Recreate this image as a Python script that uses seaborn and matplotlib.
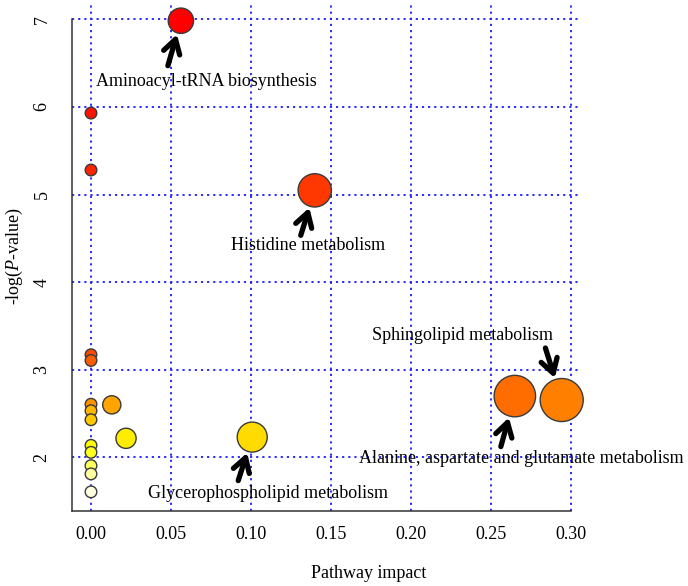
import colorsys
import numpy as np
import pandas as pd
import matplotlib
matplotlib.use("Agg")
import matplotlib.pyplot as plt
import seaborn as sns

# pathway impact and -log(P) values, ordered from most to least significant
impact = [0.0562, 0.0, 0.0, 0.1399, 0.0, 0.0, 0.265, 0.2943, 0.0, 0.013,
          0.0, 0.0, 0.1008, 0.0219, 0.0, 0.0, 0.0, 0.0, 0.0]
neg_log_p = [6.984, 5.93, 5.28, 5.048, 3.172, 3.107, 2.70, 2.655, 2.607, 2.60,
             2.533, 2.43, 2.232, 2.218, 2.138, 2.058, 1.906, 1.812, 1.607]
pathway = ["Aminoacyl-tRNA biosynthesis", "", "", "Histidine metabolism", "", "",
           "Alanine, aspartate and glutamate metabolism", "Sphingolipid metabolism",
           "", "", "", "", "Glycerophospholipid metabolism", "", "", "", "", "", ""]
x_ticks = [0.00, 0.05, 0.10, 0.15, 0.20, 0.25, 0.30]
y_ticks = [2, 3, 4, 5, 6, 7]


def heat_colors(n):
    # same ramp as R's heat.colors()
    j = n // 4
    i = n - j
    cols = [colorsys.hsv_to_rgb(h, 1, 1) for h in np.linspace(0, 1 / 6, i)]
    if j > 0:
        cols += [colorsys.hsv_to_rgb(1 / 6, s, 1)
                 for s in np.linspace(1 - 1 / (2 * j), 1 / (2 * j), j)]
    return cols


df = pd.DataFrame({"impact": impact, "logp": neg_log_p, "pathway": pathway})
df["id"] = np.arange(len(df))
cols = heat_colors(len(df))
palette = {k: cols[k] for k in df["id"]}
# circle radius (px) grows with sqrt(impact); convert to scatter area in pt^2
radius_px = 6.3 + 29 * np.sqrt(df["impact"]) - 0.5
sizes = {k: (2 * r * 0.72) ** 2 for k, r in zip(df["id"], radius_px)}

sns.set_style("white")
plt.rcParams["font.family"] = ["Liberation Serif", "DejaVu Serif"]
plt.rcParams["mathtext.fontset"] = "custom"
plt.rcParams["mathtext.rm"] = "Liberation Serif"
plt.rcParams["mathtext.it"] = "Liberation Serif:italic"
for key in ["text.color", "axes.labelcolor", "xtick.labelcolor", "ytick.labelcolor"]:
    plt.rcParams[key] = "black"

fig = plt.figure(figsize=(6.88, 5.86), dpi=100)
ax = fig.add_axes([0.1049, 0.1285, 0.7389, 0.8683])

# R-style 4% padding around the data
xr = df["impact"].max() - df["impact"].min()
yr = df["logp"].max() - df["logp"].min()
xlim = (df["impact"].min() - 0.04 * xr, df["impact"].max() + 0.04 * xr)
ylim = (df["logp"].min() - 0.04 * yr, df["logp"].max() + 0.04 * yr)

ax.set_axisbelow(True)
ax.grid(True, color="#1a1aff", linestyle=(0, (1.2, 2.2)), linewidth=1.3)

sns.scatterplot(data=df, x="impact", y="logp", hue="id", palette=palette,
                size="id", sizes=sizes, legend=False, edgecolor="#3a3a3a",
                linewidth=1.0, alpha=1, ax=ax, clip_on=False, zorder=3)

ax.set_xlim(*xlim)
ax.set_ylim(*ylim)
ax.set_xticks(x_ticks)
ax.set_xticklabels([f"{v:.2f}" for v in x_ticks], fontsize=13)
ax.set_yticks(y_ticks)
ax.set_yticklabels([str(v) for v in y_ticks], fontsize=13, rotation=90, va="center")

for side in ["top", "right"]:
    ax.spines[side].set_visible(False)
for side in ["left", "bottom"]:
    ax.spines[side].set_color("#333333")
    ax.spines[side].set_linewidth(1.1)
ax.spines["left"].set_bounds(ylim[0], y_ticks[-1])
ax.spines["bottom"].set_bounds(xlim[0], x_ticks[-1])
ax.tick_params(axis="x", length=6.2, width=1, color="#333333", pad=4.7, direction="out")
ax.tick_params(axis="y", length=7.6, width=1, color="#333333", pad=8, direction="out")

ax.set_xlabel("Pathway impact", fontsize=13)
ax.set_ylabel(r"-log($\mathit{P}$-value)", fontsize=13)
ax.xaxis.set_label_coords(0.584, -0.107)
ax.yaxis.set_label_coords(-0.093, 0.5)

# arrow tail and text offsets (pixels) from each labelled circle
label_offsets = {
    "Aminoacyl-tRNA biosynthesis": ((-13, 45), (25, 60.3)),
    "Histidine metabolism": ((-14, 45), (-6.7, 55.5)),
    "Glycerophospholipid metabolism": ((-14, 43.5), (15.7, 56.5)),
    "Alanine, aspartate and glutamate metabolism": ((-14, 50.5), (6.5, 62.8)),
    "Sphingolipid metabolism": ((-16.3, -52), (-99.6, -64.8)),
}
for _, row in df[df["pathway"] != ""].iterrows():
    (tx, ty), (lx, ly) = label_offsets[row["pathway"]]
    r_pt = (radius_px[row["id"]] + 1.5) * 0.72
    ax.annotate("", xy=(row["impact"], row["logp"]), xytext=(tx, -ty),
                textcoords="offset pixels", zorder=4,
                arrowprops=dict(arrowstyle="->, head_length=1.0, head_width=0.6",
                                lw=3.8, color="black", shrinkA=0, shrinkB=r_pt,
                                mutation_scale=10))
    ax.annotate(row["pathway"], xy=(row["impact"], row["logp"]), xytext=(lx, -ly),
                textcoords="offset pixels", ha="center", va="center",
                fontsize=13, annotation_clip=False, zorder=4)

fig.savefig("out.png", dpi=100)
